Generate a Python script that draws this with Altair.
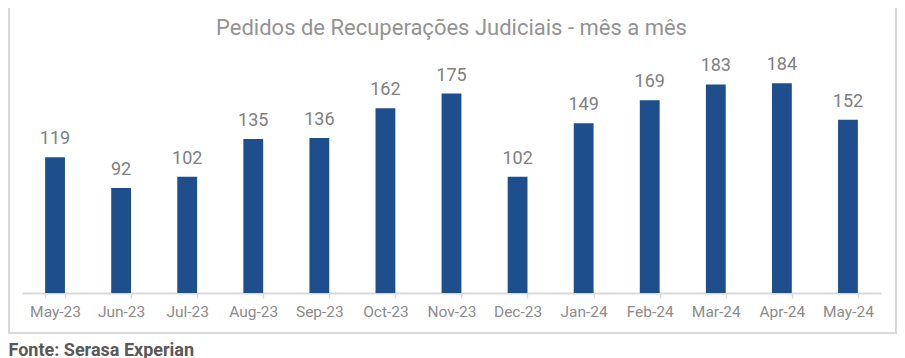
import altair as alt
import pandas as pd

months = ["May-23", "Jun-23", "Jul-23", "Aug-23", "Sep-23", "Oct-23", "Nov-23",
          "Dec-23", "Jan-24", "Feb-24", "Mar-24", "Apr-24", "May-24"]
values = [119, 92, 102, 135, 136, 162, 175, 102, 149, 169, 183, 184, 152]
title_text = "Pedidos de Recuperações Judiciais - mês a mês"
source_text = "Fonte: Serasa Experian"

df = pd.DataFrame({"month": months, "value": values})
deco = pd.DataFrame({"t": [title_text]})

FONT = "Roboto"

x_enc = alt.X(
    "month:N", sort=months,
    scale=alt.Scale(paddingInner=0.7, paddingOuter=0.35),
    axis=alt.Axis(
        title=source_text, labelAngle=0, labelFont=FONT, labelFontSize=15.5,
        labelColor="#8c8c8c", labelPadding=6, tickBand="extent", tickSize=5,
        tickColor="#d9d9d9", tickWidth=1.5, domainColor="#d9d9d9", domainWidth=2,
        titleFont=FONT, titleFontSize=18, titleFontWeight="bold", titleColor="#595959",
        titleX=-14, titleY=62, titleAlign="left", titleBaseline="alphabetic",
        titleAnchor="start",
    ),
)
y_enc = alt.Y("value:Q", scale=alt.Scale(domain=[0, 200]), axis=None)

bars = alt.Chart(df).mark_bar(color="#1f4e8c").encode(x=x_enc, y=y_enc)
labels = alt.Chart(df).mark_text(
    font=FONT, fontSize=18, color="#808080", dy=-13, baseline="alphabetic"
).encode(x=alt.X("month:N", sort=months), y="value:Q", text="value:Q")

title = alt.Chart(deco).mark_text(
    font=FONT, fontSize=22, color="#939393", baseline="middle", align="center"
).encode(text="t:N", x=alt.value(429.5), y=alt.value(-37))

border = alt.Chart(deco).mark_rect(
    fillOpacity=0, stroke="#d9d9d9", strokeWidth=2
).encode(x=alt.value(-13), x2=alt.value(874), y=alt.value(-80), y2=alt.value(268))

chart = alt.layer(border, bars, labels, title).properties(
    width=859, height=228,
    autosize=alt.AutoSizeParams(type="none"),
    padding={"left": 14, "top": 57, "right": 16, "bottom": 65},
).configure_view(stroke=None)

chart.save("out.html", embed_options={"renderer": "svg", "actions": False})
